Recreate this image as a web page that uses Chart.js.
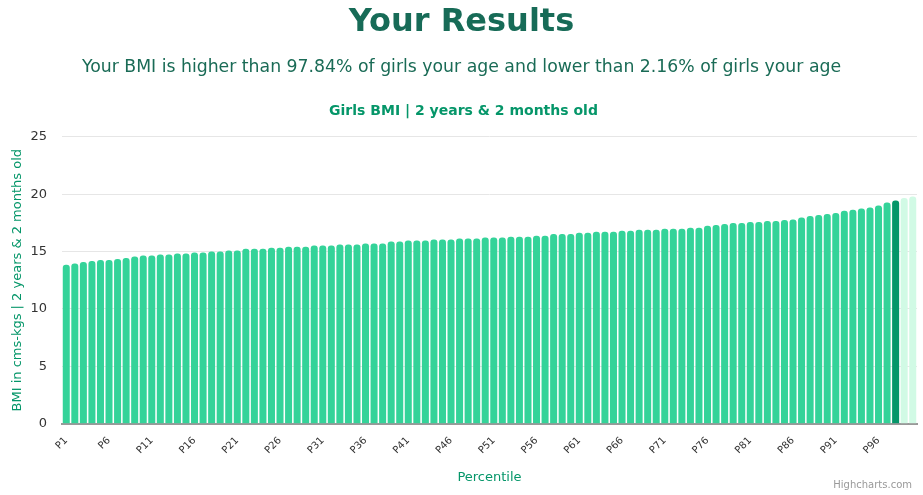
<!DOCTYPE html>
<html>
<head>
<meta charset="utf-8">
<script src="https://cdn.jsdelivr.net/npm/chart.js@4"></script>
<style>
  body { margin: 0; background: #fff; font-family: "DejaVu Sans", sans-serif; }
  #wrap { position: absolute; left: 0; top: 0; width: 923px; height: 495px; }
  .txt { position: absolute; left: 0; width: 923px; text-align: center; pointer-events: none; }
  #head { top: 1px; font-size: 32px; font-weight: bold; color: #176b57; }
  #sub { top: 56px; font-size: 17.3px; color: #1a6b56; }
  #credit { position: absolute; right: 11px; top: 479px; font-size: 10px; color: #999; }
</style>
</head>
<body>
<div id="wrap"><canvas id="chart"></canvas></div>
<div class="txt" id="head">Your Results</div>
<div class="txt" id="sub">Your BMI is higher than 97.84% of girls your age and lower than 2.16% of girls your age</div>
<div id="credit">Highcharts.com</div>
<script>
// percentile labels, the user's own bar sits between P97 and P98
let percentiles = [];
for (let i = 1; i <= 97; i++) percentiles.push("P" + i);
percentiles.push("You");
percentiles.push("P98");
percentiles.push("P99");

const userIndex = 97;

const bmiValues = [
  13.85, 13.96, 14.08, 14.17, 14.26, 14.26, 14.34, 14.43, 14.57, 14.66,
  14.66, 14.75, 14.75, 14.84, 14.84, 14.92, 14.92, 15.01, 15.01, 15.10,
  15.10, 15.24, 15.24, 15.24, 15.33, 15.33, 15.42, 15.42, 15.42, 15.53,
  15.53, 15.53, 15.62, 15.62, 15.62, 15.71, 15.71, 15.71, 15.88, 15.88,
  15.97, 15.97, 15.97, 16.05, 16.05, 16.05, 16.14, 16.14, 16.14, 16.23,
  16.23, 16.23, 16.29, 16.29, 16.29, 16.38, 16.38, 16.52, 16.52, 16.52,
  16.64, 16.64, 16.72, 16.72, 16.72, 16.81, 16.81, 16.90, 16.90, 16.90,
  16.99, 16.99, 16.99, 17.07, 17.07, 17.25, 17.31, 17.39, 17.48, 17.48,
  17.57, 17.57, 17.66, 17.66, 17.74, 17.80, 17.97, 18.09, 18.18, 18.27,
  18.35, 18.55, 18.64, 18.76, 18.84, 19.02, 19.28,
  19.45,
  19.66, 19.80
];

const yTicks = [0, 5, 10, 15, 20, 25];

const barColors = bmiValues.map((v, i) => {
  if (i < userIndex) return "#34D399";
  if (i === userIndex) return "#059669";
  return "#D1FAE5";
});

const ctx = document.getElementById('chart').getContext('2d');

const chart = new Chart(ctx, {
  type: 'bar',
  data: {
    labels: percentiles,
    datasets: [{
      data: bmiValues,
      backgroundColor: barColors,
      borderRadius: 3,
      borderSkipped: 'bottom',
      barPercentage: 0.82,
      categoryPercentage: 1
    }]
  },
  options: {
    responsive: true,
    maintainAspectRatio: false,
    animation: false,
    layout: {
      padding: { top: 103, left: 10, right: 6, bottom: 10 }
    },
    plugins: {
      legend: { display: false },
      title: {
        display: true,
        text: 'Girls BMI | 2 years & 2 months old',
        color: '#059669',
        font: { family: 'DejaVu Sans', size: 14, weight: 'bold' },
        padding: { top: 0, bottom: 17 }
      }
    },
    scales: {
      x: {
        grid: { display: false },
        border: { color: '#999', width: 2 },
        // rotated labels shouldn't push the plot inwards
        afterFit: (scale) => { scale.paddingLeft = 0; scale.paddingRight = 0; },
        ticks: {
          autoSkip: false,
          maxRotation: 45,
          minRotation: 45,
          color: '#333',
          font: { family: 'DejaVu Sans', size: 10 },
          callback: function(val, idx) {
            return idx % 5 === 0 ? percentiles[idx] : '';
          }
        },
        title: {
          display: true,
          text: 'Percentile',
          color: '#059669',
          font: { family: 'DejaVu Sans', size: 13 },
          padding: { top: 10, bottom: 0 }
        }
      },
      y: {
        min: 0,
        max: 25,
        afterBuildTicks: (axis) => { axis.ticks = yTicks.map(v => ({ value: v })); },
        afterFit: (axis) => { axis.width = 52; },
        grid: { color: '#e6e6e6', drawTicks: false },
        border: { display: false },
        ticks: {
          color: '#333',
          font: { family: 'DejaVu Sans', size: 13 },
          padding: 15
        },
        title: {
          display: true,
          text: 'BMI in cms-kgs | 2 years & 2 months old',
          color: '#059669',
          font: { family: 'DejaVu Sans', size: 13 },
          padding: { top: 0, bottom: 4 }
        }
      }
    }
  }
});
</script>
</body>
</html>
